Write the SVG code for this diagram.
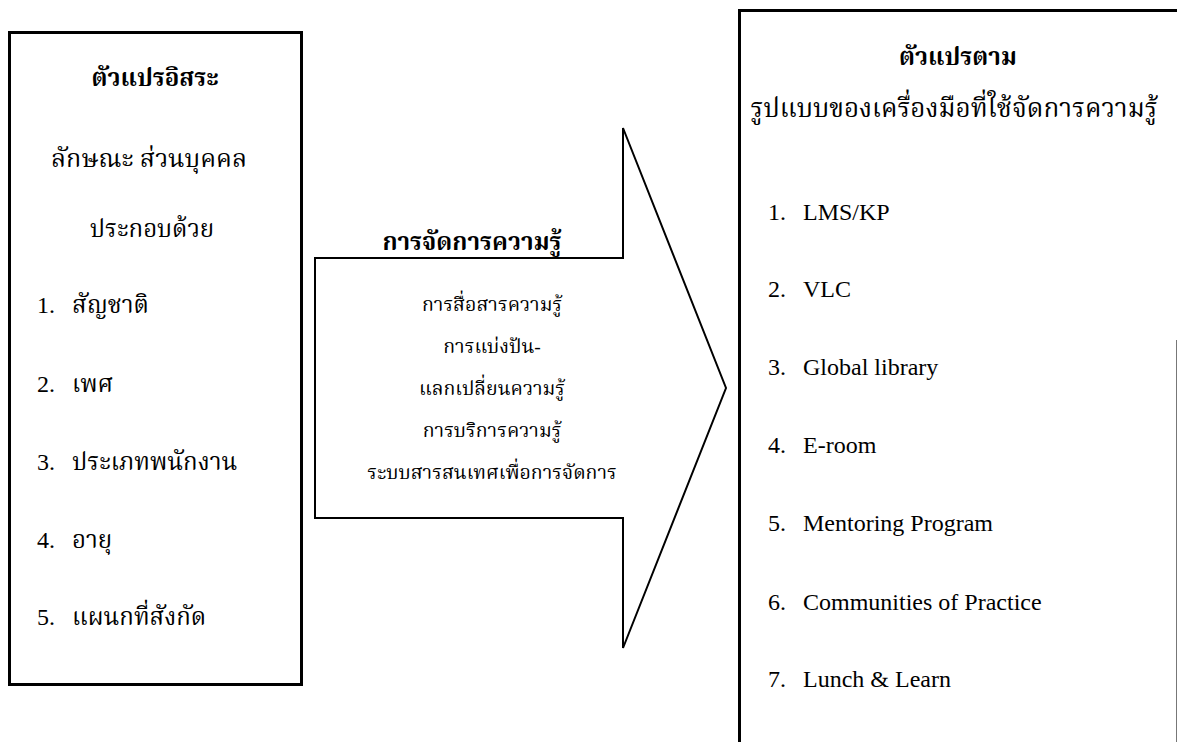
<svg xmlns="http://www.w3.org/2000/svg" width="1177" height="742" viewBox="0 0 1177 742">
  <style>
    .t { font-family: "Liberation Serif", "Noto Serif Thai", "Noto Sans Thai Looped", "Noto Sans Thai", serif; font-size: 24px; fill: #000; }
    .b { font-weight: bold; }
    .c { text-anchor: middle; }
    .lg { font-size: 25px; }
    .sm { font-size: 19.5px; }
    .xl { font-size: 26px; }
    .box { fill: #fff; stroke: #000; stroke-width: 3; }
    .arrow { fill: #fff; stroke: #000; stroke-width: 2; stroke-linejoin: miter; }
  </style>
  <rect width="1177" height="742" fill="#fff"/>

  <!-- independent variables -->
  <g id="independent">
    <rect class="box" x="9.5" y="32.5" width="292" height="652"/>
    <text class="t b c" x="155" y="86">ตัวแปรอิสระ</text>
    <text class="t c lg" x="149" y="167">ลักษณะ ส่วนบุคคล</text>
    <text class="t c" x="152" y="237">ประกอบด้วย</text>
    <text class="t" y="313"><tspan x="37">1.</tspan><tspan x="72">สัญชาติ</tspan></text>
    <text class="t" y="392"><tspan x="37">2.</tspan><tspan x="72">เพศ</tspan></text>
    <text class="t" y="470"><tspan x="37">3.</tspan><tspan x="72">ประเภทพนักงาน</tspan></text>
    <text class="t" y="548"><tspan x="37">4.</tspan><tspan x="72">อายุ</tspan></text>
    <text class="t" y="625"><tspan x="37">5.</tspan><tspan x="72">แผนกที่สังกัด</tspan></text>
  </g>

  <!-- knowledge management block arrow -->
  <g id="connectors">
    <polygon class="arrow" points="315,258 623,258 623,128 726,388 623,648 623,518 315,518"/>
    <text class="t b c" x="472" y="250">การจัดการความรู้</text>
    <text class="t c sm" x="492" y="311">การสื่อสารความรู้</text>
    <text class="t c sm" x="492" y="353">การแบ่งปัน-</text>
    <text class="t c sm" x="492" y="395">แลกเปลี่ยนความรู้</text>
    <text class="t c sm" x="492" y="437">การบริการความรู้</text>
    <text class="t c sm" x="492" y="479">ระบบสารสนเทศเพื่อการจัดการ</text>
  </g>

  <!-- dependent variables -->
  <g id="dependent">
    <path d="M739.5,742 V10.5 H1177" fill="none" stroke="#000" stroke-width="3"/>
    <line x1="1176.5" y1="340" x2="1176.5" y2="742" stroke="#777" stroke-width="1"/>
    <text class="t b c" x="958" y="65">ตัวแปรตาม</text>
    <text class="t c xl" x="954" y="117">รูปแบบของเครื่องมือที่ใช้จัดการความรู้</text>
    <text class="t" y="220"><tspan x="768">1.</tspan><tspan x="803">LMS/KP</tspan></text>
    <text class="t" y="297"><tspan x="768">2.</tspan><tspan x="803">VLC</tspan></text>
    <text class="t" y="375"><tspan x="768">3.</tspan><tspan x="803">Global library</tspan></text>
    <text class="t" y="453"><tspan x="768">4.</tspan><tspan x="803">E-room</tspan></text>
    <text class="t" y="531"><tspan x="768">5.</tspan><tspan x="803">Mentoring Program</tspan></text>
    <text class="t" y="610"><tspan x="768">6.</tspan><tspan x="803">Communities of Practice</tspan></text>
    <text class="t" y="687"><tspan x="768">7.</tspan><tspan x="803">Lunch &amp; Learn</tspan></text>
  </g>
</svg>
